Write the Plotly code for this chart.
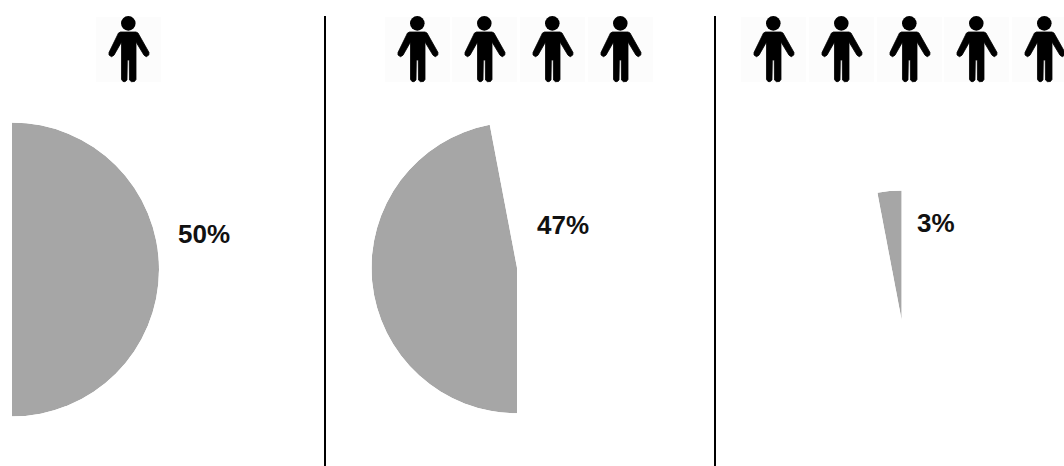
import plotly.graph_objects as go

W, H = 1064, 466

# Data
panel_labels = ["50%", "47%", "3%"]
shares = [50, 47, 3]
starts = [0, 50, 97]
icon_centers = [[128], [417, 484, 552, 620], [773, 841, 909, 976, 1044]]

# Layout of each panel, in pixels: left, right, top, bottom of the drawn sector
boxes = [(12, 159, 122, 417), (371.5, 517, 122.5, 415.5), (877, 902, 190.5, 320)]
label_pos = [(204, 234), (563, 225), (936, 223)]
dividers = [325, 715]
GREY = "#A6A6A6"


def px(x):
    return x / W


def py(y):
    return 1 - y / H


def person_path(c):
    pts = [
        (-7.5, 15), (8, 15), (10, 16), (21, 35.5), (20.8, 38), (18.3, 39.7), (16, 38.2),
        (8, 25), (8, 62.5), (6.5, 64.5), (3.5, 64.7), (1.5, 63), (1.3, 43), (-0.7, 43),
        (-1, 63), (-3, 64.7), (-5, 64.5), (-6.5, 62.5), (-6.5, 25), (-14, 38.2),
        (-16.5, 39.7), (-19, 38), (-19, 35.5), (-9.5, 16),
    ]
    return "M " + " L ".join(f"{px(c + a):.5f},{py(17 + b):.5f}" for a, b in pts) + " Z"


fig = go.Figure()
layout = {}
for i, (share, start, box) in enumerate(zip(shares, starts, boxes)):
    name = "polar" if i == 0 else f"polar{i + 1}"
    a0, a1 = start * 3.6, (start + share) * 3.6
    fig.add_trace(go.Barpolar(
        r=[1], theta=[(a0 + a1) / 2], width=[a1 - a0], subplot=name,
        marker=dict(color=GREY, line=dict(width=0)), showlegend=False, hoverinfo="skip",
    ))
    l, r, t, b = box
    layout[name] = dict(
        domain=dict(x=[px(l), px(r)], y=[py(b), py(t)]),
        sector=[90 - a1, 90 - a0],
        bgcolor="rgba(0,0,0,0)",
        radialaxis=dict(visible=False, range=[0, 1]),
        angularaxis=dict(visible=False, direction="clockwise", rotation=90),
    )

shapes = []
for group in icon_centers:
    for c in group:
        shapes.append(dict(type="rect", xref="paper", yref="paper", x0=px(c - 32), x1=px(c + 33),
                           y0=py(82), y1=py(17), fillcolor="#FCFCFC", line_width=0, layer="below"))
        shapes.append(dict(type="circle", xref="paper", yref="paper", x0=px(c - 7), x1=px(c + 7.6),
                           y0=py(30.7), y1=py(16), fillcolor="black", line_width=0))
        shapes.append(dict(type="path", xref="paper", yref="paper", path=person_path(c),
                           fillcolor="black", line=dict(color="black", width=0.8)))
for x in dividers:
    shapes.append(dict(type="line", xref="paper", yref="paper", x0=px(x), x1=px(x),
                       y0=py(466), y1=py(16), line=dict(color="black", width=2)))

annotations = [
    dict(text=f"<b>{t}</b>", x=px(x), y=py(y), xref="paper", yref="paper", showarrow=False,
         xanchor="center", yanchor="middle",
         font=dict(family="Liberation Sans", size=26, color="#111111"))
    for t, (x, y) in zip(panel_labels, label_pos)
]

fig.update_layout(
    width=W, height=H, margin=dict(l=0, r=0, t=0, b=0), autosize=False,
    paper_bgcolor="white", plot_bgcolor="white", showlegend=False,
    shapes=shapes, annotations=annotations, **layout,
)
fig.write_html("out.html", config={"displayModeBar": False},
               post_script="document.body.style.margin='0';document.body.style.overflow='hidden';")
